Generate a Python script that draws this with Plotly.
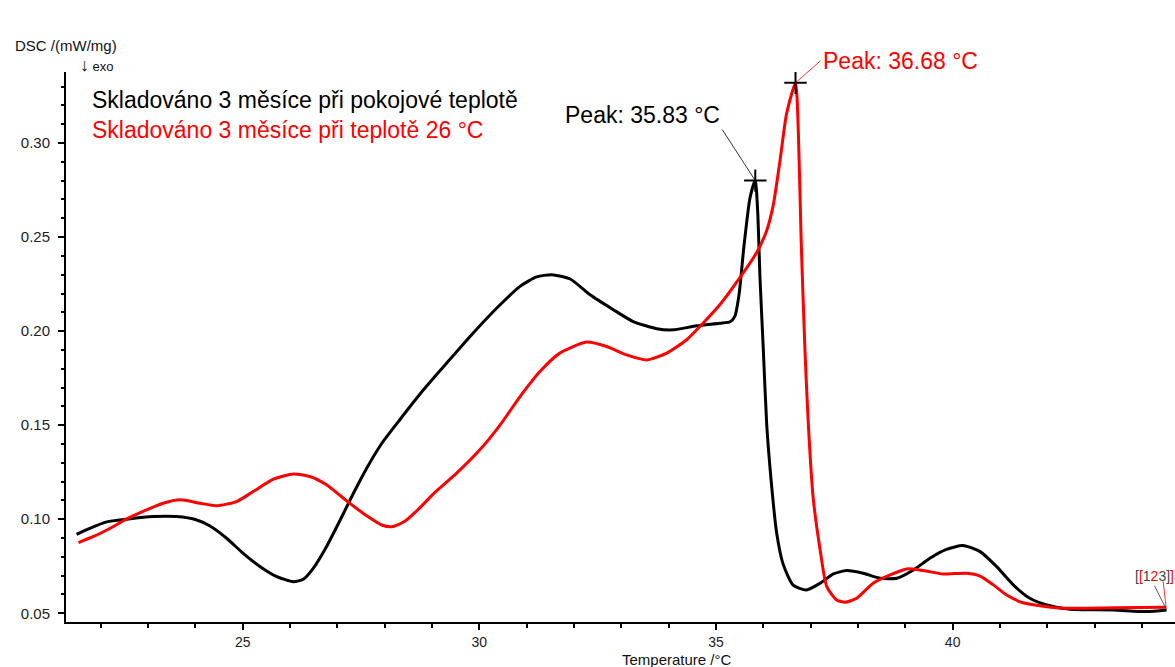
import plotly.graph_objects as go

# ---------------- data ----------------
temp_black = [21.49, 21.77, 22.13, 22.55, 23.11, 23.60, 24.03, 24.31, 24.66, 25.01,
              25.37, 25.72, 26.07, 26.28, 26.49, 26.77, 27.06, 27.34, 27.62, 27.93,
              28.32, 28.82, 29.31, 29.87, 30.37, 30.86, 31.21, 31.53, 31.92, 32.34,
              32.83, 33.25, 33.75, 34.10, 34.59, 35.08, 35.30, 35.40, 35.49, 35.59,
              35.72, 35.83, 35.88, 35.93, 36.00, 36.07, 36.16, 36.28, 36.42, 36.63,
              36.91, 37.20, 37.48, 37.76, 38.11, 38.47, 38.82, 39.17, 39.52, 39.87,
              40.22, 40.58, 40.93, 41.28, 41.63, 41.99, 42.48, 43.39, 44.10, 44.52]
dsc_black = [0.0920, 0.0952, 0.0986, 0.1000, 0.1014, 0.1014, 0.0996, 0.0964, 0.0899, 0.0819,
             0.0748, 0.0695, 0.0668, 0.0681, 0.0739, 0.0854, 0.0996, 0.1138, 0.1271, 0.1400,
             0.1529, 0.1688, 0.1830, 0.1990, 0.2123, 0.2238, 0.2288, 0.2300, 0.2277, 0.2193,
             0.2114, 0.2051, 0.2013, 0.2007, 0.2028, 0.2042, 0.2050, 0.2080, 0.2200, 0.2450,
             0.2710, 0.2800, 0.2640, 0.2280, 0.1900, 0.1510, 0.1220, 0.0930, 0.0760, 0.0650,
             0.0624, 0.0660, 0.0709, 0.0727, 0.0713, 0.0686, 0.0686, 0.0730, 0.0793, 0.0840,
             0.0860, 0.0828, 0.0748, 0.0651, 0.0580, 0.0544, 0.0521, 0.0518, 0.0509, 0.0518]

temp_red = [21.53, 21.84, 22.20, 22.55, 22.97, 23.32, 23.68, 24.10, 24.45, 24.87,
            25.22, 25.65, 26.07, 26.42, 26.77, 27.19, 27.62, 27.95, 28.15, 28.40,
            28.70, 29.05, 29.52, 30.01, 30.44, 30.86, 31.28, 31.70, 32.27, 32.69,
            33.11, 33.54, 33.96, 34.38, 34.73, 35.08, 35.50, 35.86, 36.07, 36.21,
            36.35, 36.49, 36.68, 36.74, 36.80, 36.88, 36.95, 37.05, 37.20, 37.34,
            37.55, 37.73, 37.97, 38.32, 38.68, 39.03, 39.38, 39.80, 40.30, 40.58,
            40.86, 41.14, 41.49, 41.99, 42.34, 43.40, 44.51]
dsc_red = [0.0876, 0.0907, 0.0952, 0.1002, 0.1050, 0.1085, 0.1103, 0.1085, 0.1072, 0.1094,
           0.1147, 0.1213, 0.1241, 0.1227, 0.1183, 0.1099, 0.1018, 0.0968, 0.0960, 0.0985,
           0.1050, 0.1140, 0.1245, 0.1369, 0.1502, 0.1652, 0.1785, 0.1883, 0.1942, 0.1918,
           0.1874, 0.1847, 0.1883, 0.1954, 0.2043, 0.2140, 0.2283, 0.2418, 0.2534, 0.2670,
           0.2902, 0.3154, 0.3320, 0.3057, 0.2476, 0.1896, 0.1509, 0.1122, 0.0837, 0.0642,
           0.0571, 0.0559, 0.0580, 0.0660, 0.0704, 0.0736, 0.0727, 0.0709, 0.0713, 0.0698,
           0.0651, 0.0597, 0.0556, 0.0535, 0.0527, 0.0530, 0.0532]

peak_black = (35.83, 0.280)
peak_red = (36.68, 0.332)

series_names = ["Skladováno 3 měsíce při pokojové teplotě",
                "Skladováno 3 měsíce při teplotě 26 °C"]
x_title = "Temperature /°C"
y_title = "DSC /(mW/mg)"
x_ticks = [25, 30, 35, 40]
y_ticks = [0.05, 0.10, 0.15, 0.20, 0.25, 0.30]

# ---------------- layout geometry ----------------
W, H = 1175, 667
L, R, T, B = 66, 1175, 72, 622   # plot area in pixels
FONT = "Liberation Sans, Arial, sans-serif"


def px(x):
    return (x - L) / (R - L)


def py(y):
    return (B - y) / (B - T)


fig = go.Figure()
fig.add_trace(go.Scatter(x=temp_black, y=dsc_black, mode="lines",
                         line=dict(color="black", width=3, shape="spline", smoothing=0.6),
                         name=series_names[0], hoverinfo="skip"))
fig.add_trace(go.Scatter(x=temp_red, y=dsc_red, mode="lines",
                         line=dict(color="#ff0000", width=3, shape="spline", smoothing=0.6),
                         name=series_names[1], hoverinfo="skip"))
fig.add_trace(go.Scatter(x=[peak_black[0], peak_red[0]], y=[peak_black[1], peak_red[1]],
                         mode="markers",
                         marker=dict(symbol="cross-thin", size=16,
                                     line=dict(color="black", width=2)),
                         hoverinfo="skip"))

end_label = ("<span style='color:#444'>[</span><span style='color:#ff0000'>[</span>"
             "<span style='color:#444'>1</span><span style='color:#ff0000'>2</span>"
             "<span style='color:#444'>3]</span><span style='color:#ff0000'>]</span>")

annotations = [
    # legend texts
    dict(xref="paper", yref="paper", x=px(90), y=py(100), xanchor="left", yanchor="middle",
         text=series_names[0], showarrow=False, font=dict(family=FONT, size=23, color="black")),
    dict(xref="paper", yref="paper", x=px(90), y=py(130), xanchor="left", yanchor="middle",
         text=series_names[1], showarrow=False, font=dict(family=FONT, size=23, color="#ff0000")),
    # axis titles
    dict(xref="paper", yref="paper", x=px(13), y=py(45), xanchor="left", yanchor="middle",
         text=y_title, showarrow=False, font=dict(family=FONT, size=15, color="#111")),
    dict(xref="paper", yref="paper", x=px(78), y=py(65), xanchor="left", yanchor="middle",
         text="<span style='font-size:18px'>↓</span> exo", showarrow=False,
         font=dict(family=FONT, size=13, color="#111")),
    dict(xref="paper", yref="paper", x=px(677), y=py(659), xanchor="center", yanchor="middle",
         text=x_title, showarrow=False, font=dict(family=FONT, size=15, color="#111")),
    # peak labels
    dict(x=peak_black[0], y=peak_black[1], text="Peak: %.2f °C" % peak_black[0],
         showarrow=True, arrowhead=0, arrowwidth=0.8, arrowcolor="black", standoff=0,
         ax=-33, ay=-51, xanchor="right", yanchor="bottom",
         font=dict(family=FONT, size=23, color="black")),
    dict(x=peak_red[0], y=peak_red[1], text="Peak: %.2f °C" % peak_red[0],
         showarrow=True, arrowhead=0, arrowwidth=0.8, arrowcolor="#ff0000", standoff=0,
         ax=25, ay=-22, xanchor="left", yanchor="middle",
         font=dict(family=FONT, size=23, color="#ff0000")),
    # segment labels at curve ends
    dict(x=temp_black[-1], y=dsc_black[-1], text=end_label,
         showarrow=True, arrowhead=0, arrowwidth=0.8, arrowcolor="#333", standoff=0,
         ax=-12, ay=-24, xanchor="center", yanchor="bottom",
         font=dict(family=FONT, size=14, color="#444")),
    dict(x=temp_red[-1], y=dsc_red[-1], text=" ",
         showarrow=True, arrowhead=0, arrowwidth=0.8, arrowcolor="#ff0000", standoff=0,
         ax=-3, ay=-26, xanchor="center", yanchor="bottom",
         font=dict(family=FONT, size=4, color="#ff0000")),
]

x_min = 25 - (242.7 - L) / 47.33
x_max = 25 + (R - 242.7) / 47.33
y_min = 0.05 - (B - 613.3) * 0.05 / 94.06
y_max = 0.05 + (613.3 - T) * 0.05 / 94.06

fig.update_layout(
    width=W, height=H,
    margin=dict(l=L, r=W - R, t=T, b=H - B, pad=0),
    paper_bgcolor="white", plot_bgcolor="white",
    showlegend=False,
    annotations=annotations,
    font=dict(family=FONT, size=15, color="#111"),
    xaxis=dict(range=[x_min, x_max], showgrid=False, zeroline=False,
               showline=True, linecolor="black", linewidth=2,
               tickmode="array", tickvals=x_ticks, ticktext=[str(v) for v in x_ticks],
               ticks="outside", ticklen=6, tickwidth=1.5, tickcolor="black",
               tickfont=dict(family=FONT, size=14, color="#222"),
               minor=dict(dtick=1, tick0=0, ticks="outside", ticklen=4,
                          tickwidth=1.5, tickcolor="black")),
    yaxis=dict(range=[y_min, y_max], showgrid=False, zeroline=False,
               showline=True, linecolor="black", linewidth=2,
               tickmode="array", tickvals=y_ticks, ticktext=["%.2f" % v for v in y_ticks],
               ticks="outside", ticklen=6, tickwidth=1.5, tickcolor="black",
               ticklabelstandoff=5,
               tickfont=dict(family=FONT, size=15, color="#222"),
               minor=dict(dtick=0.01, tick0=0, ticks="outside", ticklen=3,
                          tickwidth=1.5, tickcolor="black")),
)

fig.write_html("out.html")
